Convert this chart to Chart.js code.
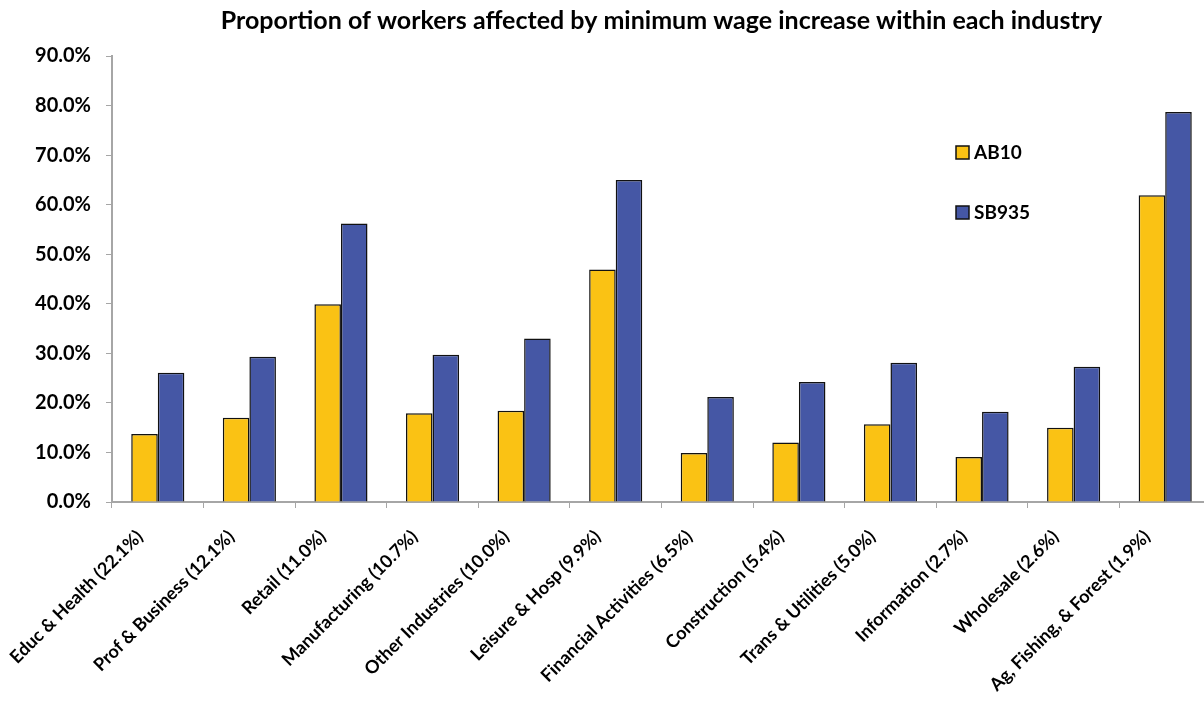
<!DOCTYPE html>
<html>
<head>
<meta charset="utf-8">
<script src="https://cdn.jsdelivr.net/npm/chart.js@4"></script>
<style>
  html, body { margin: 0; padding: 0; background: #fff; overflow: hidden; }
</style>
</head>
<body>
<canvas id="wageChart" width="1212" height="708"></canvas>
<script>
// industries (share of workforce in parentheses)
var industries = [
  'Educ & Health (22.1%)', 'Prof & Business (12.1%)', 'Retail (11.0%)',
  'Manufacturing (10.7%)', 'Other Industries (10.0%)', 'Leisure & Hosp (9.9%)',
  'Financial Activities (6.5%)', 'Construction (5.4%)', 'Trans & Utilities (5.0%)',
  'Information (2.7%)', 'Wholesale (2.6%)', 'Ag, Fishing, & Forest (1.9%)'
];
var ab10 = [13.7, 17.0, 39.9, 17.9, 18.4, 46.9, 9.9, 12.0, 15.7, 9.1, 15.0, 61.9];
var sb935 = [26.1, 29.3, 56.2, 29.7, 33.0, 65.0, 21.2, 24.2, 28.1, 18.2, 27.3, 78.7];
var yMax = 90;
var yStep = 10;

var axisGrey = '#a6a6a6';
var fontName = 'Lato, Carlito, Calibri, sans-serif';

// legend sits inside the plot on the right, drawn by hand
var boxLegend = {
  id: 'boxLegend',
  afterDraw: function (chart) {
    var ctx = chart.ctx;
    var rows = [152, 212];
    ctx.save();
    chart.data.datasets.forEach(function (ds, i) {
      var y = rows[i];
      ctx.fillStyle = ds.backgroundColor;
      ctx.fillRect(956, y - 6, 13, 13);
      ctx.lineWidth = 1.5;
      ctx.strokeStyle = '#111';
      ctx.strokeRect(956, y - 6, 13, 13);
      ctx.fillStyle = '#000';
      ctx.font = 'bold 19px ' + fontName;
      ctx.textBaseline = 'middle';
      ctx.textAlign = 'left';
      ctx.fillText(ds.label, 974, y + 1);
    });
    ctx.restore();
  }
};

document.addEventListener('DOMContentLoaded', function () {
  var ctx = document.getElementById('wageChart').getContext('2d');
  var chart = new Chart(ctx, {
    type: 'bar',
    data: {
      labels: industries,
      datasets: [{
        label: 'AB10',
        data: ab10,
        backgroundColor: '#fac214',
        borderColor: '#111',
        borderWidth: 1.5
      }, {
        label: 'SB935',
        data: sb935,
        backgroundColor: '#4557a5',
        borderColor: '#111',
        borderWidth: 1.5
      }]
    },
    options: {
      responsive: false,
      animation: false,
      categoryPercentage: 0.58,
      barPercentage: 1.0,
      layout: { padding: { left: 0, right: 1, top: 0, bottom: 0 } },
      plugins: {
        legend: { display: false },
        tooltip: { enabled: false },
        title: {
          display: true,
          fullSize: false,
          text: 'Proportion of workers affected by minimum wage increase within each industry',
          color: '#000',
          font: { family: fontName, size: 25, weight: 'bold' },
          padding: { top: 6, bottom: 20 }
        }
      },
      scales: {
        x: {
          grid: { drawOnChartArea: false, offset: true, color: axisGrey, tickLength: 6 },
          border: { color: axisGrey, width: 2 },
          ticks: {
            color: '#000',
            font: { family: fontName, size: 18, weight: 'bold' },
            minRotation: 45,
            maxRotation: 45,
            autoSkip: false,
            padding: 18,
            labelOffset: -18
          },
          afterFit: function (scale) { scale.height = 206; }
        },
        y: {
          min: 0,
          max: yMax,
          grid: { drawOnChartArea: false, color: axisGrey, tickLength: 6 },
          border: { color: axisGrey, width: 2 },
          ticks: {
            stepSize: yStep,
            color: '#000',
            padding: 15,
            font: { family: fontName, size: 20, weight: 'bold' },
            callback: function (v) { return v.toFixed(1) + '%'; }
          },
          afterFit: function (scale) { scale.width = 112; }
        }
      }
    },
    plugins: [boxLegend]
  });
});
</script>
</body>
</html>
